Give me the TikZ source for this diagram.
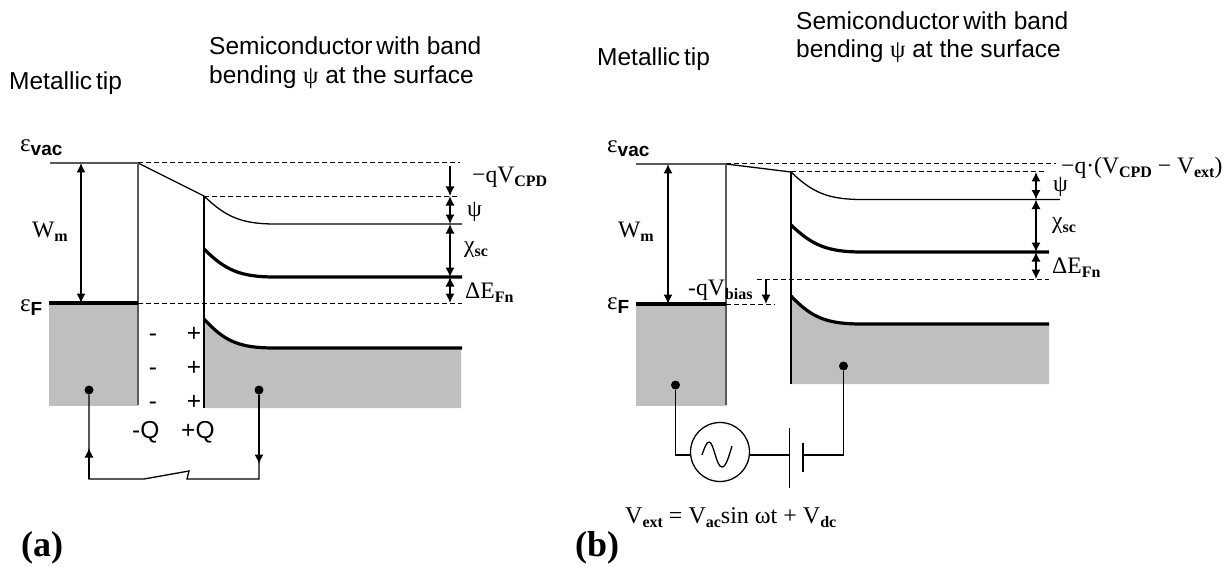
\documentclass[tikz,border=0pt]{standalone}
\usepackage{fontspec}
\setmainfont{Liberation Serif}
\newfontfamily\arialfont{Liberation Sans}
\usetikzlibrary{arrows.meta}
\newcommand{\lowbf}[1]{\raisebox{-0.35ex}{\fontsize{16}{16}\selectfont\bfseries #1}}
\newcommand{\lowsf}[1]{\raisebox{-0.35ex}{\fontsize{19}{19}\selectfont\arialfont\bfseries #1}}
\tikzset{
  x=1pt, y=-1pt,
  >={Latex[length=9.5pt,width=9pt]},
  sanstext/.style={anchor=west, inner sep=0pt, font=\fontsize{24.5}{24.5}\selectfont\arialfont},
  symtext/.style={anchor=west, inner sep=0pt, font=\fontsize{25}{25}\selectfont},
  levellbl/.style={anchor=west, inner sep=0pt, font=\fontsize{23.6}{23.6}\selectfont},
  panellbl/.style={anchor=west, inner sep=0pt, font=\fontsize{36}{36}\selectfont\bfseries},
  dashline/.style={dash pattern=on 5pt off 3pt, line width=1pt},
  thinline/.style={line width=1.3pt},
  thickline/.style={line width=3.2pt},
  edgeline/.style={line width=1.5pt},
  metalfill/.style={fill=black!25, draw=none},
  contact/.style={circle, fill=black, inner sep=0pt, minimum size=9pt},
}
\begin{document}
\begin{tikzpicture}
\useasboundingbox (0,0) rectangle (1232,567);

% panel (a)
\fill[metalfill] (49,303) rectangle (138,406);
\fill[metalfill] (204,319) .. controls (225,342) and (240,348) .. (275,348) -- (461,348) -- (461,408) -- (204,408) -- cycle;

\coordinate (vacL) at (50,163);
\coordinate (vacR) at (138,163);
\coordinate (bendT) at (204,196);
\coordinate (efL) at (49,303);
\coordinate (efR) at (138,303);

\draw[thinline] (vacL) -- (vacR) -- (bendT);
\draw[edgeline, black!65] (vacR) -- (138,405);
\draw[thinline] (bendT) -- (204,408);
\draw[thinline] (bendT) .. controls (225,216) and (240,224) .. (275,224) -- (462,224);
\draw[thickline] (204,249) .. controls (225,270) and (240,277) .. (275,277) -- (462,277);
\draw[thickline] (204,319) .. controls (225,342) and (240,348) .. (275,348) -- (462,348);
\draw[thickline] (efL) -- (efR);
\draw[dashline] (vacR) -- (460,163);
\draw[dashline] (bendT) -- (460,196);
\draw[dashline] (efR) -- (462,303);

\draw[<->, thinline] (81,163) coordinate (wmT) -- (81,303) coordinate (wmB);
\draw[->, thinline] (450,166) coordinate (cpdT) -- (450,196) coordinate (cpdB);
\draw[<->, thinline] (cpdB) -- (450,224) coordinate (psiB);
\draw[<->, thinline] (psiB) -- (450,277) coordinate (chiB);
\draw[<->, thinline] (chiB) -- (450,303) coordinate (fnB);

\node[contact] (dotL) at (89,390) {};
\node[contact] (dotR) at (259,390) {};
\coordinate (swA) at (144,479);
\coordinate (swB) at (189,471);
\coordinate (swC) at (187,479);
\draw[thinline] (dotL) -- (89,479) coordinate (cornL) -- (swA) -- (swB) -- (swC) -- (259,479) coordinate (cornR) -- (dotR);
\draw[->, thinline] (cornL) -- (89,448);
\draw[->, thinline] (dotR) -- (259,464);

\foreach \yy/\nm in {341/a, 375/b, 409/c} {
  \node[sanstext, anchor=base] (minus\nm) at (153,\yy) {-};
  \node[sanstext, anchor=base] (plus\nm) at (194,\yy) {+};
}

\node[sanstext] (tipA) at (9,83) {Metallic\hspace{-3pt} tip};
\node[sanstext] (semiA) at (209,46) {Semiconductor\hspace{-3pt} with band};
\node[sanstext] (bendA) at (209,77) {bending {\rmfamily ψ} at the surface};
\node[symtext] (vacA) at (20,148) {ε\lowsf{vac}};
\node[symtext] (fermiA) at (20,308) {ε\lowsf{F}};
\node[levellbl] (wmA) at (32,232) {W\lowbf{m}};
\node[levellbl] (cpdA) at (472,177) {−qV\lowbf{CPD}};
\node[levellbl] (psiA) at (467,212) {ψ};
\node[levellbl] (chiA) at (464,250) {χ\lowbf{sc}};
\node[levellbl] (fnA) at (465,293) {ΔE\lowbf{Fn}};
\node[sanstext] (chgN) at (132,432) {-Q};
\node[sanstext] (chgP) at (181,432) {+Q};
\node[panellbl] (labelA) at (21,548) {(a)};

% panel (b)
\fill[metalfill] (636,304) rectangle (726,406);
\fill[metalfill] (791,296) .. controls (812,318) and (827,324) .. (862,324) -- (1049,324) -- (1049,384) -- (791,384) -- cycle;

\coordinate (vacLb) at (636,164);
\coordinate (vacRb) at (726,164);
\coordinate (bendTb) at (791,172);
\coordinate (efLb) at (636,304);
\coordinate (efRb) at (726,304);

\draw[thinline] (vacLb) -- (vacRb) -- (bendTb);
\draw[edgeline, black!65] (vacRb) -- (726,405);
\draw[thinline] (bendTb) -- (791,384);
\draw[thinline] (bendTb) .. controls (812,192) and (827,199.5) .. (862,199.5) -- (1060,199.5);
\draw[thickline] (791,225) .. controls (812,245) and (827,252) .. (862,252) -- (1049,252);
\draw[thickline] (791,296) .. controls (812,318) and (827,324) .. (862,324) -- (1049,324);
\draw[thickline] (efLb) -- (efRb);
\draw[dashline] (vacRb) -- (1056,164);
\draw[dashline] (bendTb) -- (1047,172);
\draw[dashline] (757,279) -- (1049,279);
\draw[dashline] (efRb) -- (775,304);

\draw[<->, thinline] (668,164) coordinate (wmTb) -- (668,304) coordinate (wmBb);
\draw[->, thinline] (766,279) coordinate (biasT) -- (766,304) coordinate (biasBb);
\draw[<->, thinline] (1036,172) coordinate (psiT) -- (1036,199.5) coordinate (psiBb);
\draw[<->, thinline] (psiBb) -- (1036,252) coordinate (chiBb);
\draw[<->, thinline] (chiBb) -- (1036,279) coordinate (fnBb);

\node[contact] (dotLb) at (675.5,385) {};
\node[contact] (dotRb) at (843.5,366) {};
\node[circle, draw, thinline, minimum size=59pt, inner sep=0pt] (acsrc) at (720,452) {};
\coordinate (plateA) at (789.5,455);
\coordinate (plateB) at (803,455);
\draw[thinline] (dotLb) -- (675.5,455) -- (acsrc.west |- plateA);
\draw[thinline] (acsrc.east |- plateA) -- (plateA);
\draw[thinline] (plateB) -- (843.5,455) -- (dotRb);
\draw[thinline] (789.5,428) -- (789.5,488);
\draw[thinline] (803,443) -- (803,472);
\draw[thinline] (702,455) .. controls (705,446) and (707,442) .. (709,442) .. controls (714,442) and (716,467) .. (722,467) .. controls (726,467) and (729,456) .. (732,446);

\node[sanstext] (tipB) at (597,59) {Metallic\hspace{-3pt} tip};
\node[sanstext] (semiB) at (796,21) {Semiconductor\hspace{-3pt} with band};
\node[sanstext] (bendB) at (796,51) {bending {\rmfamily ψ} at the surface};
\node[symtext] (vacB) at (607,149) {ε\lowsf{vac}};
\node[symtext] (fermiB) at (607,306) {ε\lowsf{F}};
\node[levellbl] (wmLb) at (618,232) {W\lowbf{m}};
\node[levellbl] (biasLb) at (688,290) {-qV\lowbf{bias}};
\node[levellbl] (cpdLb) at (1061,168) {−q·(V\lowbf{CPD} − V\lowbf{ext})};
\node[levellbl] (psiLb) at (1053,187) {ψ};
\node[levellbl] (chiLb) at (1052,226) {χ\lowbf{sc}};
\node[levellbl] (fnLb) at (1052,268) {ΔE\lowbf{Fn}};
\node[levellbl, font=\fontsize{24}{24}\selectfont] (vextB) at (625,518) {V\lowbf{ext} = V\lowbf{ac}sin ωt + V\lowbf{dc}};
\node[panellbl] (labelB) at (575,548) {(b)};
\end{tikzpicture}
\end{document}
